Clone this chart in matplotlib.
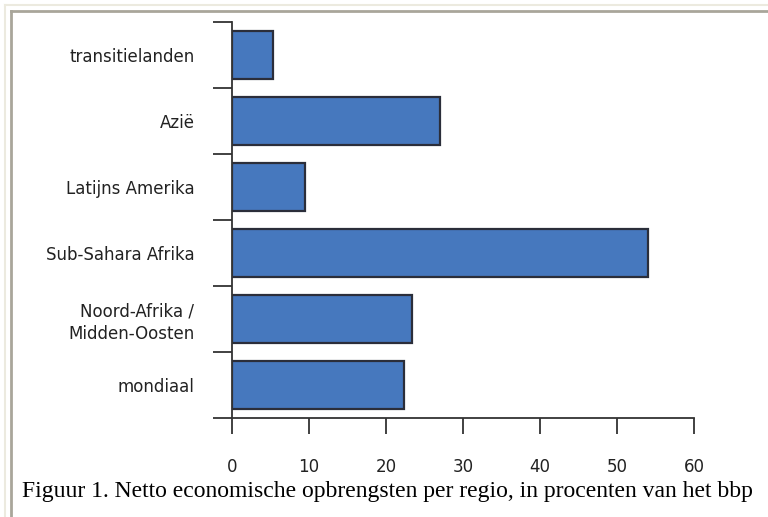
import matplotlib

matplotlib.use("Agg")
import matplotlib.pyplot as plt
from matplotlib.lines import Line2D
import numpy as np

# bottom to top
regions = ["mondiaal", "Noord-Afrika /\nMidden-Oosten", "Sub-Sahara Afrika",
           "Latijns Amerika", "Azië", "transitielanden"]
values = [22.4, 23.4, 54.0, 9.5, 27.0, 5.3]
xticks = [0, 10, 20, 30, 40, 50, 60]
caption = "Figuur 1. Netto economische opbrengsten per regio, in procenten van het bbp"

plt.rcParams["font.family"] = ["DejaVu Sans"]

fig = plt.figure(figsize=(7.68, 5.17), dpi=100)
W, H = 768, 517

# page frame (the picture is cropped from a web page)
for color, off, lw in [("#ECEADF", 5, 1.5), ("#A9A69A", 11, 2.0)]:
    fig.add_artist(Line2D([off / W, 1], [1 - off / H, 1 - off / H], color=color,
                          linewidth=lw, transform=fig.transFigure))
    fig.add_artist(Line2D([off / W, off / W], [0, 1 - off / H], color=color,
                          linewidth=lw, transform=fig.transFigure))

ax = fig.add_axes([232 / W, 1 - 418 / H, (694 - 232) / W, (418 - 22) / H])
y = np.arange(len(regions))
ax.barh(y, values, height=0.74, color="#4678BE", edgecolor="#2B2E3A", linewidth=1.6)

ax.set_xlim(0, 60)
ax.set_ylim(-0.5, len(regions) - 0.5)
ax.set_xticks(xticks)
ax.set_yticks(y)
ax.set_yticklabels(regions, ha="right", multialignment="right", linespacing=1.3)
ax.set_yticks(np.arange(-0.5, len(regions)), minor=True)

for s in ["top", "right"]:
    ax.spines[s].set_visible(False)
for s in ["left", "bottom"]:
    ax.spines[s].set_color("#333333")
    ax.spines[s].set_linewidth(1.3)

ax.tick_params(axis="x", direction="out", length=11.5, width=1.3, color="#333333",
               pad=17, labelsize=12, labelcolor="#222222")
ax.tick_params(axis="y", which="major", length=0, pad=27, labelsize=12,
               labelcolor="#222222")
ax.tick_params(axis="y", which="minor", direction="out", length=13.5, width=1.3,
               color="#333333")

fig.text(22 / W, 1 - 492 / H, caption, family="Liberation Serif", fontsize=17,
         va="center", ha="left", color="black")

fig.savefig("out.png", dpi=100)
